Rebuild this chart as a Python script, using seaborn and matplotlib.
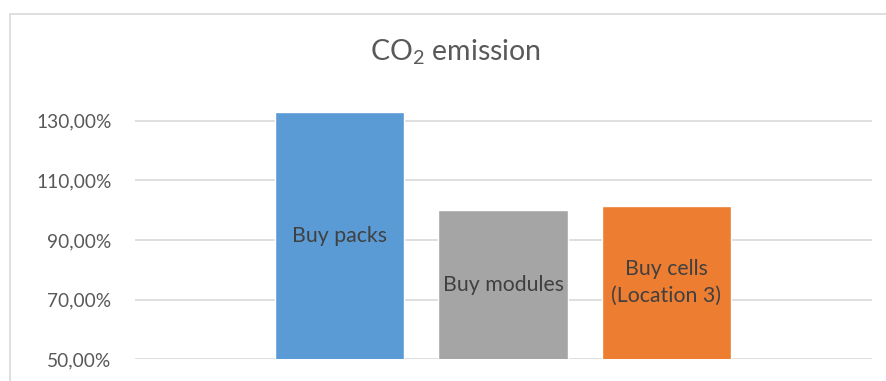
import matplotlib
matplotlib.use("Agg")
import matplotlib.pyplot as plt
import seaborn as sns
import pandas as pd
from matplotlib.patches import Rectangle

# ---- data ----
categories = ["Buy packs", "Buy modules", "Buy cells\n(Location 3)"]
values = [132.9, 100.0, 101.4]
colors = ["#5B9BD5", "#A5A5A5", "#ED7D31"]
ytick_values = [50, 70, 90, 110, 130]
ytick_labels = ["50,00%", "70,00%", "90,00%", "110,00%", "130,00%"]
title = "CO$_\\mathrm{2}$ emission"
y_min, y_max = 50, 140

sns.set_theme(style="white")
plt.rcParams["font.family"] = ["Lato", "DejaVu Sans"]
plt.rcParams["mathtext.fontset"] = "custom"
plt.rcParams["mathtext.rm"] = "Lato"

df = pd.DataFrame({"cat": categories, "val": values})

fig = plt.figure(figsize=(8.87, 3.81), dpi=100)
ax = fig.add_axes([135 / 887, 1 - 359.3 / 381, (872 - 135) / 887, (359.3 - 91) / 381])

sns.barplot(data=df, x="cat", y="val", hue="cat", palette=colors,
            legend=False, width=0.79, saturation=1, ax=ax, zorder=3)
sns.despine(ax=ax, left=True, bottom=True)

ax.set_xlim(-1.251, 3.257)
ax.set_ylim(y_min, y_max)

for rect, lab, v in zip(ax.patches, categories, values):
    ax.text(rect.get_x() + rect.get_width() / 2, (y_min + v) / 2,
            lab, ha="center", va="center", color="#404040", fontsize=15.3,
            linespacing=1.4, zorder=4)

ax.set_yticks(ytick_values)
ax.set_yticklabels(ytick_labels)
ax.set_xticks([])
ax.tick_params(axis="y", length=0, pad=17, labelsize=13.8, labelcolor="#595959")
ax.yaxis.grid(True, color="#D9D9D9", linewidth=1.2, zorder=0)
ax.set_axisbelow(True)
ax.set_xlabel("")
ax.set_ylabel("")

fig.text(455 / 887, 1 - 52 / 381, title, ha="center", va="center",
         fontsize=20.5, color="#595959")

# chart border (Excel chart area)
fig.patches.append(Rectangle((10.5 / 887, -0.1), 1.1, 1 - 14 / 381 + 0.1,
                             transform=fig.transFigure, fill=False,
                             edgecolor="#D9D9D9", linewidth=1.2))

fig.savefig("out.png", dpi=100, facecolor="white")
